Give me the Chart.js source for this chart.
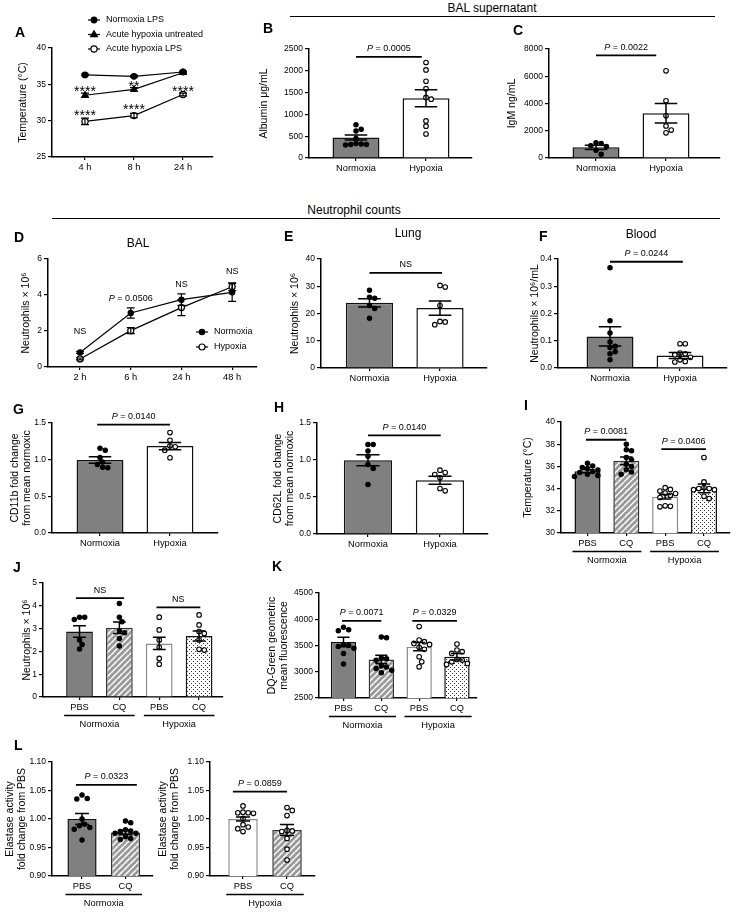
<!DOCTYPE html>
<html>
<head>
<meta charset="utf-8">
<script src="https://cdn.jsdelivr.net/npm/chart.js@4.4.0/dist/chart.umd.min.js"></script>
<style>
  body { margin: 0; width: 741px; height: 915px; position: relative; overflow: hidden; background: #fff;
         font-family: "Liberation Sans", Arial, sans-serif; color: #000; }
  canvas { position: absolute; }
  .txt { position: absolute; white-space: nowrap; line-height: 1; }
  .rule { position: absolute; height: 0; border-top: 1.5px solid #000; }
</style>
</head>
<body>
<script>
const FONT = '"Liberation Sans", Arial, sans-serif';

// ---- A: body temperature
const tempTimes = ['4 h', '8 h', '24 h'];
const tempNormoxiaLPS = [36.3, 36.1, 36.7];
const tempNormoxiaLPSSem = [0.12, 0.12, 0.12];
const tempUntreated = [33.5, 34.3, 36.6];
const tempUntreatedSem = [0.3, 0.25, 0.15];
const tempHypoxiaLPS = [29.9, 30.7, 33.6];
const tempHypoxiaLPSSem = [0.45, 0.3, 0.2];
const tempStars = [[0, 34.5, '****'], [1, 35.2, '**'], [0, 31.2, '****'], [1, 32.0, '****'], [2, 34.5, '****']];

// ---- B, C: BAL supernatant
const groupLabels = ['Normoxia', 'Hypoxia'];
const albuminMean = [470, 1370];
const albuminSem = [60, 195];
const albuminNormoxia = [760, 660, 620, 450, 330, 320, 310, 300, 310];
const albuminHypoxia = [2190, 2020, 1760, 1590, 1390, 1350, 850, 730, 550];
const igmMean = [780, 3280];
const igmSem = [150, 720];
const igmNormoxia = [1120, 1060, 900, 850, 560, 280];
const igmHypoxia = [6400, 4200, 3100, 2350, 2050, 1850];

// ---- D: BAL neutrophils over time
const balTimes = ['2 h', '6 h', '24 h', '48 h'];
const balNormoxia = [0.81, 3.0, 3.74, 4.15];
const balNormoxiaSem = [0.05, 0.28, 0.32, 0.5];
const balHypoxia = [0.45, 2.02, 3.3, 4.46];
const balHypoxiaSem = [0.05, 0.17, 0.45, 0.22];
const balNotes = [[0, 1.98, 'NS'], [1, 3.8, 'P = 0.0506'], [2, 4.57, 'NS'], [3, 5.3, 'NS']];

// ---- E, F: lung and blood neutrophils
const lungMean = [23.9, 22.0];
const lungSem = [1.5, 2.6];
const lungNormoxia = [28.5, 26.0, 25.6, 22.9, 21.8, 18.3];
const lungHypoxia = [30.3, 29.7, 22.9, 17.1, 15.9, 16.9];
const bloodMean = [0.116, 0.046];
const bloodSem = [0.035, 0.011];
const bloodNormoxia = [0.368, 0.173, 0.128, 0.095, 0.080, 0.075, 0.060, 0.052, 0.030];
const bloodHypoxia = [0.089, 0.089, 0.055, 0.052, 0.049, 0.039, 0.030, 0.024, 0.022];

// ---- G, H: CD11b / CD62L
const cd11bMean = [0.995, 1.185];
const cd11bSem = [0.045, 0.05];
const cd11bNormoxia = [1.157, 1.13, 1.03, 0.967, 0.935, 0.89, 0.895];
const cd11bHypoxia = [1.37, 1.265, 1.19, 1.175, 1.13, 1.026];
const cd62lMean = [0.997, 0.727];
const cd62lSem = [0.075, 0.054];
const cd62lNormoxia = [1.208, 1.208, 1.123, 1.05, 0.94, 0.885, 0.669];
const cd62lHypoxia = [0.862, 0.83, 0.804, 0.76, 0.615, 0.584];

// ---- I, J, K: PBS vs CQ
const treatLabels = ['PBS', 'CQ', 'PBS', 'CQ'];
const cqTempMean = [35.56, 36.5, 33.26, 34.02];
const cqTempSem = [0.13, 0.35, 0.2, 0.4];
const cqTempNormPBS = [36.28, 36.04, 35.9, 35.8, 35.68, 35.53, 35.44, 35.3, 35.17, 35.08];
const cqTempNormCQ = [38.0, 37.5, 37.4, 36.8, 36.6, 36.2, 36.0, 35.7, 35.5, 35.3];
const cqTempHypPBS = [34.08, 33.93, 33.78, 33.6, 33.56, 33.4, 33.2, 32.45, 32.4, 32.36];
const cqTempHypCQ = [36.8, 34.6, 34.1, 34.0, 34.0, 33.9, 33.9, 33.3, 33.1];

const cqNeutMean = [2.87, 3.04, 2.35, 2.68];
const cqNeutSem = [0.25, 0.25, 0.27, 0.22];
const cqNeutNormPBS = [3.5, 3.5, 3.4, 2.5, 2.3, 2.1];
const cqNeutNormCQ = [4.1, 3.5, 3.3, 2.9, 2.82, 2.57, 2.24];
const cqNeutHypPBS = [3.5, 2.94, 2.5, 2.18, 1.69, 1.44];
const cqNeutHypCQ = [3.6, 3.16, 2.87, 2.79, 2.5, 2.09, 2.06];

const dqMean = [3567, 3235, 3478, 3286];
const dqSem = [90, 80, 77, 64];
const dqNormPBS = [3850, 3800, 3780, 3520, 3500, 3480, 3450, 3350, 3150];
const dqNormCQ = [3660, 3650, 3260, 3250, 3220, 3110, 3090, 3060, 3030, 2980];
const dqHypPBS = [3861, 3605, 3573, 3540, 3520, 3465, 3427, 3286, 3190, 3094];
const dqHypCQ = [3529, 3414, 3382, 3350, 3235, 3222, 3190, 3158, 3139];

// ---- L: elastase activity
const pairLabels = ['PBS', 'CQ'];
const elaNormMean = [1.0, 0.9765];
const elaNormSem = [0.0095, 0.004];
const elaNormPBS = [1.042, 1.036, 1.035, 1.0, 0.991, 0.988, 0.985, 0.982, 0.963];
const elaNormCQ = [0.9965, 0.9935, 0.981, 0.979, 0.978, 0.975, 0.975, 0.969, 0.966, 0.964];
const elaHypMean = [1.0, 0.9806];
const elaHypSem = [0.0035, 0.0097];
const elaHypPBS = [1.023, 1.012, 1.011, 1.011, 1.01, 1.001, 0.99, 0.986, 0.983, 0.978];
const elaHypCQ = [1.02, 1.015, 1.006, 0.98, 0.979, 0.978, 0.966, 0.947, 0.928];


function hatch() {
    const c = document.createElement('canvas');
    c.width = 6; c.height = 6;
    const g = c.getContext('2d');
    g.fillStyle = '#9a9a9a';
    g.fillRect(0, 0, 6, 6);
    g.strokeStyle = '#fff';
    g.lineWidth = 1.5;
    g.beginPath();
    for (let k = -6; k <= 6; k += 6) { g.moveTo(k, 6); g.lineTo(k + 6, 0); }
    g.stroke();
    return g.createPattern(c, 'repeat');
}

function dotted() {
    const c = document.createElement('canvas');
    c.width = 4; c.height = 4;
    const g = c.getContext('2d');
    g.fillStyle = '#fff';
    g.fillRect(0, 0, 4, 4);
    g.fillStyle = '#333';
    g.fillRect(0, 0, 1, 1);
    g.fillRect(2, 2, 1, 1);
    return g.createPattern(c, 'repeat');
}

const GRAY = '#808080';
const HATCH = hatch();
const DOTS = dotted();

// simple beeswarm so points of equal value spread sideways
function swarm(values, center, pxX, pxY, dia) {
    const placed = [];
    const xs = [];
    const order = values.map((v, i) => i).sort((a, b) => values[b] - values[a]);
    order.forEach(i => {
        const py = values[i] * pxY;
        for (let k = 0; k < 60; k++) {
            const off = (k % 2 ? 1 : -1) * Math.ceil(k / 2) * dia * 0.5;
            if (placed.every(p => (p[0] - off) ** 2 + (p[1] - py) ** 2 >= dia * dia)) {
                placed.push([off, py]);
                xs[i] = center + off / pxX;
                break;
            }
        }
    });
    return values.map((v, i) => ({ x: xs[i], y: v }));
}

function addText(text, x, y, css, anchor) {
    const d = document.createElement('div');
    d.className = 'txt';
    d.textContent = text;
    d.style.cssText += css;
    d.style.left = x + 'px';
    d.style.top = y + 'px';
    d.style.transform = anchor === 'left' ? 'translate(0,-50%)' : 'translate(-50%,-50%)';
    document.body.appendChild(d);
}

function addRule(x1, x2, y) {
    const d = document.createElement('div');
    d.className = 'rule';
    d.style.left = x1 + 'px';
    d.style.width = (x2 - x1) + 'px';
    d.style.top = y + 'px';
    document.body.appendChild(d);
}

function drawLabel(ctx, text, cx, cy, size) {
    ctx.textBaseline = 'middle';
    if (text.startsWith('P ')) {
        const rest = text.slice(1);
        ctx.font = `italic ${size}px ${FONT}`;
        const w1 = ctx.measureText('P').width;
        ctx.font = `${size}px ${FONT}`;
        const w2 = ctx.measureText(rest).width;
        const x0 = cx - (w1 + w2) / 2;
        ctx.textAlign = 'left';
        ctx.font = `italic ${size}px ${FONT}`;
        ctx.fillText('P', x0, cy);
        ctx.font = `${size}px ${FONT}`;
        ctx.fillText(rest, x0 + w1, cy);
    } else {
        ctx.textAlign = 'center';
        ctx.font = `${size}px ${FONT}`;
        ctx.fillText(text, cx, cy);
    }
}

function marker(ctx, style, open, x, y, r) {
    ctx.beginPath();
    if (style === 'triangle') {
        ctx.moveTo(x, y - r);
        ctx.lineTo(x + r * 0.95, y + r * 0.6);
        ctx.lineTo(x - r * 0.95, y + r * 0.6);
        ctx.closePath();
    } else {
        ctx.arc(x, y, r, 0, Math.PI * 2);
    }
    ctx.fillStyle = open ? '#fff' : '#000';
    ctx.fill();
    ctx.stroke();
    ctx.fillStyle = '#000';
}

function makeExtras(s, cLeft, cTop) {
    return {
        id: 'extras',
        afterDatasetsDraw(chart) {
            const ctx = chart.ctx, xs = chart.scales.x, ys = chart.scales.y;
            ctx.save();
            ctx.strokeStyle = '#000';
            ctx.fillStyle = '#000';
            // error bars (SEM)
            chart.data.datasets.forEach((ds, di) => {
                if (!ds.sem) return;
                chart.getDatasetMeta(di).data.forEach((el, i) => {
                    const v = ds.data[i].y, e = ds.sem[i];
                    const cap = el.width ? el.width * 0.24 : 4;
                    const y1 = ys.getPixelForValue(v + e), y2 = ys.getPixelForValue(v - e);
                    ctx.lineWidth = el.width ? 1.5 : 1.2;
                    ctx.beginPath();
                    ctx.moveTo(el.x, y1); ctx.lineTo(el.x, y2);
                    ctx.moveTo(el.x - cap, y1); ctx.lineTo(el.x + cap, y1);
                    ctx.moveTo(el.x - cap, y2); ctx.lineTo(el.x + cap, y2);
                    ctx.stroke();
                });
            });
            (s.brackets || []).forEach(([a, b, v, label]) => {
                const yy = ys.getPixelForValue(v);
                const x1 = xs.getPixelForValue(a), x2 = xs.getPixelForValue(b);
                ctx.lineWidth = 1.8;
                ctx.beginPath(); ctx.moveTo(x1, yy); ctx.lineTo(x2, yy); ctx.stroke();
                drawLabel(ctx, label, (x1 + x2) / 2, yy - 8, 9);
            });
            (s.notes || []).forEach(([x, v, t]) => {
                drawLabel(ctx, t, xs.getPixelForValue(x), ys.getPixelForValue(v), 9);
            });
            (s.stars || []).forEach(([x, v, t]) => {
                ctx.font = `14px ${FONT}`;
                ctx.textAlign = 'center';
                ctx.textBaseline = 'alphabetic';
                ctx.fillText(t, xs.getPixelForValue(x), ys.getPixelForValue(v) + 8);
            });
            (s.groups || []).forEach(([i1, i2, label]) => {
                const bars = chart.getDatasetMeta(0).data;
                const x1 = bars[i1].x - bars[i1].width / 2 - 2;
                const x2 = bars[i2].x + bars[i2].width / 2 + 2;
                const base = chart.chartArea.bottom;
                ctx.lineWidth = 1.5;
                ctx.beginPath(); ctx.moveTo(x1, base + 18.5); ctx.lineTo(x2, base + 18.5); ctx.stroke();
                drawLabel(ctx, label, (x1 + x2) / 2, base + 27, 9.3);
            });
            if (s.legend) {
                const L = s.legend;
                chart.data.datasets.forEach((ds, i) => {
                    const y = L.y + i * L.dy - cTop, x = L.x - cLeft;
                    ctx.lineWidth = 1.2;
                    ctx.beginPath(); ctx.moveTo(x, y); ctx.lineTo(x + L.len, y); ctx.stroke();
                    marker(ctx, ds.pointStyle, ds.pointBackgroundColor === '#fff', x + L.len / 2, y, ds.pointRadius);
                    ctx.font = `${L.size}px ${FONT}`;
                    ctx.textAlign = 'left';
                    ctx.textBaseline = 'middle';
                    ctx.fillText(ds.label, x + L.len + 6, y);
                });
            }
            ctx.restore();
        }
    };
}

function placeCanvas(left, top, w, h) {
    const c = document.createElement('canvas');
    c.width = w; c.height = h;
    c.style.left = left + 'px';
    c.style.top = top + 'px';
    c.style.width = w + 'px';
    c.style.height = h + 'px';
    document.body.appendChild(c);
    return c;
}

function tickList(min, max, step) {
    const out = [];
    for (let v = min; v <= max + step / 1000; v += step) out.push({ value: Math.round(v * 1e6) / 1e6 });
    return out;
}

function scales(p, mL, mB) {
    return {
        x: {
            type: 'linear', min: p.xMin, max: p.xMax, offset: false,
            afterBuildTicks: s => { s.ticks = p.xLabels.map((t, i) => ({ value: i })); },
            afterFit: s => { s.height = mB; },
            grid: { drawOnChartArea: false, offset: false, color: '#000', lineWidth: 1.2, tickLength: 3 },
            border: { color: '#000', width: 1.5 },
            ticks: { callback: v => p.xLabels[v], color: '#000', font: { family: FONT, size: 9.3 },
                     padding: 2, maxRotation: 0, autoSkip: false }
        },
        y: {
            min: p.yMin, max: p.yMax,
            afterBuildTicks: s => { s.ticks = tickList(p.yMin, p.yMax, p.yStep); },
            afterFit: s => { s.width = mL; },
            grid: { drawOnChartArea: false, color: '#000', lineWidth: 1.2, tickLength: 4 },
            border: { color: '#000', width: 1.5 },
            ticks: { callback: v => v.toFixed(p.yDec || 0), color: '#000', font: { family: FONT, size: 8.5 }, padding: 2 },
            title: { display: true, text: p.yTitle, color: '#000', padding: 0,
                     font: { family: FONT, size: 10.5, lineHeight: 1.15 } }
        }
    };
}

function frame(p) {
    const [L, T, R, B] = p.rect;
    const left = p.titleX - 6;
    const mL = L - left, mT = p.mT || 30, mR = p.mR || 10, mB = p.mB || 40;
    const canvas = placeCanvas(left, T - mT, mL + (R - L) + mR, mT + (B - T) + mB);
    return { canvas, left, top: T - mT, mL, mT, mR, mB, pxX: (R - L) / (p.xMax - p.xMin), pxY: (B - T) / (p.yMax - p.yMin) };
}

function barChart(p) {
    const f = frame(p);
    const datasets = [{
        type: 'bar',
        data: p.means.map((m, i) => ({ x: i, y: m })),
        sem: p.sems,
        backgroundColor: p.fills,
        borderColor: p.borders || p.fills.map(() => '#111'),
        borderWidth: 1.5,
        barPercentage: 0.67,
        categoryPercentage: 1,
        order: 2
    }];
    p.dots.forEach((vals, i) => datasets.push({
        type: 'scatter',
        data: swarm(vals, i, f.pxX, f.pxY, 5.2),
        order: 1,
        clip: false,
        pointRadius: p.open[i] ? 2.3 : 2.2,
        pointHoverRadius: 2.3,
        pointBorderWidth: 1.1,
        pointBackgroundColor: p.open[i] ? '#fff' : '#000',
        pointBorderColor: '#000'
    }));
    new Chart(f.canvas, {
        type: 'bar',
        data: { datasets },
        options: {
            responsive: false, animation: false, devicePixelRatio: 1,
            layout: { padding: { left: 0, top: f.mT, right: f.mR, bottom: 0 } },
            plugins: { legend: { display: false }, tooltip: { enabled: false } },
            scales: scales(p, f.mL, f.mB)
        },
        plugins: [makeExtras(p, f.left, f.top)]
    });
}

function lineChart(p) {
    const f = frame(p);
    const datasets = p.series.map(s => ({
        type: 'line',
        label: s.label,
        data: s.values.map((v, i) => ({ x: i, y: v })),
        sem: s.sem,
        borderColor: '#000',
        borderWidth: 1.2,
        pointStyle: s.style,
        pointRadius: s.radius,
        pointHoverRadius: s.radius,
        pointBorderWidth: 1.2,
        pointBackgroundColor: s.open ? '#fff' : '#000',
        pointBorderColor: '#000',
        clip: false
    }));
    new Chart(f.canvas, {
        type: 'line',
        data: { datasets },
        options: {
            responsive: false, animation: false, devicePixelRatio: 1,
            layout: { padding: { left: 0, top: f.mT, right: f.mR, bottom: 0 } },
            plugins: { legend: { display: false }, tooltip: { enabled: false } },
            scales: scales(p, f.mL, f.mB)
        },
        plugins: [makeExtras(p, f.left, f.top)]
    });
}

// ---------- panels ----------
lineChart({
    rect: [52, 48, 213, 157], titleX: 23, mT: 46,
    xMin: -0.673, xMax: 2.612, xLabels: tempTimes,
    yMin: 25, yMax: 40, yStep: 5, yTitle: 'Temperature (°C)',
    series: [
        { label: 'Normoxia LPS', values: tempNormoxiaLPS, sem: tempNormoxiaLPSSem, style: 'circle', radius: 2.8 },
        { label: 'Acute hypoxia untreated', values: tempUntreated, sem: tempUntreatedSem, style: 'triangle', radius: 3.6 },
        { label: 'Acute hypoxia LPS', values: tempHypoxiaLPS, sem: tempHypoxiaLPSSem, style: 'circle', radius: 3.1, open: true }
    ],
    stars: tempStars,
    legend: { x: 88, y: 20, dy: 14.5, len: 12, size: 9 }
});

barChart({
    rect: [309, 49, 472, 158], titleX: 264,
    xMin: -0.671, xMax: 1.657, xLabels: groupLabels,
    yMin: 0, yMax: 2500, yStep: 500, yTitle: 'Albumin μg/mL',
    means: albuminMean, sems: albuminSem, fills: [GRAY, '#fff'],
    dots: [albuminNormoxia, albuminHypoxia], open: [false, true],
    brackets: [[0, 0.94, 2320, 'P = 0.0005']]
});

barChart({
    rect: [549, 49, 720, 158], titleX: 512,
    xMin: -0.671, xMax: 1.771, xLabels: groupLabels,
    yMin: 0, yMax: 8000, yStep: 2000, yTitle: 'IgM ng/mL',
    means: igmMean, sems: igmSem, fills: [GRAY, '#fff'],
    dots: [igmNormoxia, igmHypoxia], open: [false, true],
    brackets: [[0, 0.86, 7530, 'P = 0.0022']]
});

lineChart({
    rect: [48, 259, 257, 367], titleX: 26,
    xMin: -0.632, xMax: 3.49, xLabels: balTimes,
    yMin: 0, yMax: 6, yStep: 2, yTitle: 'Neutrophils × 10⁶',
    series: [
        { label: 'Normoxia', values: balNormoxia, sem: balNormoxiaSem, style: 'circle', radius: 2.6 },
        { label: 'Hypoxia', values: balHypoxia, sem: balHypoxiaSem, style: 'circle', radius: 3, open: true }
    ],
    notes: balNotes,
    legend: { x: 196, y: 332, dy: 15, len: 12, size: 9 }
});

barChart({
    rect: [321, 259, 487, 368], titleX: 295,
    xMin: -0.688, xMax: 1.667, xLabels: groupLabels,
    yMin: 0, yMax: 40, yStep: 10, yTitle: 'Neutrophils × 10⁶',
    means: lungMean, sems: lungSem, fills: [GRAY, '#fff'],
    dots: [lungNormoxia, lungHypoxia], open: [false, true],
    brackets: [[0, 1.03, 34.9, 'NS']]
});

barChart({
    rect: [558, 259, 727, 368], titleX: 535, mR: 8,
    xMin: -0.743, xMax: 1.671, xLabels: groupLabels,
    yMin: 0, yMax: 0.4, yStep: 0.1, yDec: 1, yTitle: 'Neutrophils × 10⁶/mL',
    means: bloodMean, sems: bloodSem, fills: [GRAY, '#fff'],
    dots: [bloodNormoxia, bloodHypoxia], open: [false, true],
    brackets: [[0, 1.04, 0.39, 'P = 0.0244']]
});

barChart({
    rect: [52, 423, 218, 533], titleX: 15,
    xMin: -0.686, xMax: 1.686, xLabels: groupLabels,
    yMin: 0, yMax: 1.5, yStep: 0.5, yDec: 1, yTitle: ['CD11b fold change', 'from mean normoxic'],
    means: cd11bMean, sems: cd11bSem, fills: [GRAY, '#fff'],
    dots: [cd11bNormoxia, cd11bHypoxia], open: [false, true],
    brackets: [[-0.04, 1, 1.478, 'P = 0.0140']]
});

barChart({
    rect: [317, 423, 488, 534], titleX: 278,
    xMin: -0.708, xMax: 1.667, xLabels: groupLabels,
    yMin: 0, yMax: 1.5, yStep: 0.5, yDec: 1, yTitle: ['CD62L fold change', 'from mean normoxic'],
    means: cd62lMean, sems: cd62lSem, fills: [GRAY, '#fff'],
    dots: [cd62lNormoxia, cd62lHypoxia], open: [false, true],
    brackets: [[0, 1.01, 1.333, 'P = 0.0140']]
});

barChart({
    rect: [561, 422, 730, 533], titleX: 528, mR: 8,
    xMin: -0.682, xMax: 3.67, xLabels: treatLabels,
    yMin: 30, yMax: 40, yStep: 2, yTitle: 'Temperature (°C)',
    means: cqTempMean, sems: cqTempSem,
    fills: [GRAY, HATCH, '#fff', DOTS], borders: ['#111', '#333', '#8a8a8a', '#111'],
    dots: [cqTempNormPBS, cqTempNormCQ, cqTempHypPBS, cqTempHypCQ], open: [false, false, true, true],
    brackets: [[-0.04, 1.0, 38.4, 'P = 0.0081'], [1.9, 3.05, 37.55, 'P = 0.0406']],
    groups: [[0, 1, 'Normoxia'], [2, 3, 'Hypoxia']]
});

barChart({
    rect: [43, 583, 223, 697], titleX: 27,
    xMin: -0.916, xMax: 3.6, xLabels: treatLabels,
    yMin: 0, yMax: 5, yStep: 1, yTitle: 'Neutrophils × 10⁶',
    means: cqNeutMean, sems: cqNeutSem,
    fills: [GRAY, HATCH, '#fff', DOTS], borders: ['#111', '#333', '#8a8a8a', '#111'],
    dots: [cqNeutNormPBS, cqNeutNormCQ, cqNeutHypPBS, cqNeutHypCQ], open: [false, false, true, true],
    brackets: [[-0.09, 1.12, 4.34, 'NS'], [1.93, 3.03, 3.93, 'NS']],
    groups: [[0, 1, 'Normoxia'], [2, 3, 'Hypoxia']]
});

barChart({
    rect: [319, 593, 477, 698], titleX: 272,
    xMin: -0.648, xMax: 3.53, xLabels: treatLabels,
    yMin: 2500, yMax: 4500, yStep: 500, yTitle: ['DQ-Green geometric', 'mean fluorescence'],
    means: dqMean, sems: dqSem,
    fills: [GRAY, HATCH, '#fff', DOTS], borders: ['#111', '#333', '#8a8a8a', '#111'],
    dots: [dqNormPBS, dqNormCQ, dqHypPBS, dqHypCQ], open: [false, false, true, true],
    brackets: [[-0.04, 1.0, 3970, 'P = 0.0071'], [1.82, 3.0, 3970, 'P = 0.0329']],
    groups: [[0, 1, 'Normoxia'], [2, 3, 'Hypoxia']]
});

barChart({
    rect: [52, 762, 153, 876], titleX: 10,
    xMin: -0.69, xMax: 1.632, xLabels: pairLabels,
    yMin: 0.9, yMax: 1.1, yStep: 0.05, yDec: 2, yTitle: ['Elastase activity', 'fold change from PBS'],
    means: elaNormMean, sems: elaNormSem,
    fills: [GRAY, HATCH], borders: ['#111', '#333'],
    dots: [elaNormPBS, elaNormCQ], open: [false, false],
    brackets: [[-0.14, 1.26, 1.06, 'P = 0.0323']],
    groups: [[0, 1, 'Normoxia']]
});

barChart({
    rect: [210, 762, 315, 876], titleX: 163,
    xMin: -0.75, xMax: 1.636, xLabels: pairLabels,
    yMin: 0.9, yMax: 1.1, yStep: 0.05, yDec: 2, yTitle: ['Elastase activity', 'fold change from PBS'],
    means: elaHypMean, sems: elaHypSem,
    fills: ['#fff', HATCH], borders: ['#8a8a8a', '#333'],
    dots: [elaHypPBS, elaHypCQ], open: [true, true],
    brackets: [[-0.23, 1.0, 1.048, 'P = 0.0859']],
    groups: [[0, 1, 'Hypoxia']]
});

// ---------- headers, titles, panel letters ----------
addRule(290, 715, 16);
addText('BAL supernatant', 492, 8, 'font-size:12px;');
addRule(52, 720, 218);
addText('Neutrophil counts', 354, 210, 'font-size:12px;');
addText('BAL', 138, 243, 'font-size:12px;');
addText('Lung', 408, 233, 'font-size:12px;');
addText('Blood', 641, 234, 'font-size:12px;');

const letterCss = 'font-size:14px;font-weight:bold;';
[['A', 15, 32], ['B', 263, 28], ['C', 513, 30], ['D', 14, 237], ['E', 284, 236], ['F', 539, 236],
 ['G', 13, 409], ['H', 274, 407], ['I', 524, 405], ['J', 13, 567], ['K', 272, 566], ['L', 14, 745]]
    .forEach(([t, x, y]) => addText(t, x, y, letterCss, 'left'));
</script>
</body>
</html>
